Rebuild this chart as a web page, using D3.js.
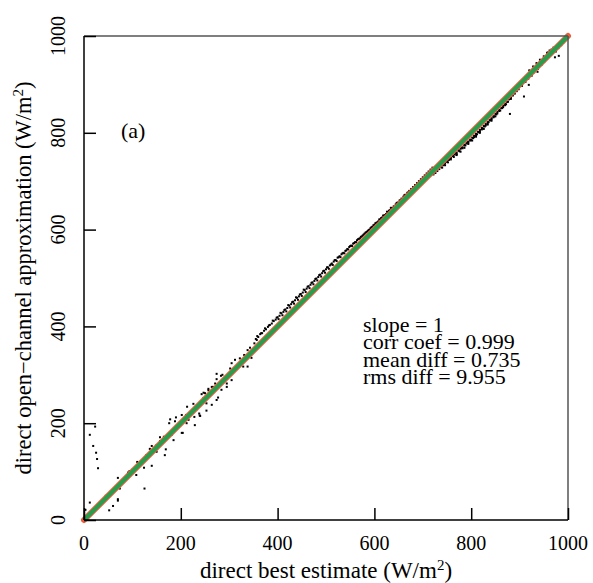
<!DOCTYPE html>
<html>
<head>
<meta charset="utf-8">
<script src="https://cdn.jsdelivr.net/npm/d3@7"></script>
<style>
  body { margin: 0; background: #fff; }
  text { font-family: "Liberation Serif", "Times New Roman", serif; fill: #000; }
</style>
</head>
<body>
<script>
// axis ticks
const xTicks = [0, 200, 400, 600, 800, 1000];
const yTicks = [0, 200, 400, 600, 800, 1000];

// fitted line (slope = 1)
const fitX = [0, 1000];
const fitY = [0, 1000];

// stats box
const statLines = ['slope = 1', 'corr coef = 0.999', 'mean diff = 0.735', 'rms diff = 9.955'];

// scatter: direct best estimate vs direct open-channel approximation (W/m2)
const lowPts = [
  [3,21],[12,36],[12,176],[23,193],[19,153],[25,139],[27,126],[29,107],
  [52,20],[60,29],[70,40],[70,43],[74,65],[70,87],[91,98],[94,101],[108,93],[110,120],
  [125,65],[124,108],[129,134],[136,147],[140,153],[140,112],[35,38],[45,50],[80,82],
  [100,104],[115,112],[150,155],[160,158],[165,172],[157,171],[157,163],[150,141],
  [169,146],[167,134],[181,176],[185,165],[192,193],[202,180],[204,180],[211,217],
  [216,207],[229,196],[233,229],[238,220],[239,216],[246,251],[250,262],[253,241],
  [255,255],[267,275],[271,282],[257,268],[274,248]
];
const midPts = [
  [176,200],[178,208],[190,212],[188,204],[202,217],[213,234],[226,240],[240,215],
  [228,213],[212,200],[253,226],[264,238],[243,260],[247,263],[257,271],[264,275],
  [274,302],[274,291],[283,298],[286,300],[277,253],[295,275],[295,282],[305,324],
  [312,331],[302,313],[322,334],[305,289],[331,341],[338,351],[343,356],[352,365],
  [357,372],[338,317],[346,335],[329,317],[284,269],[314,310]
];
const upperBand = [
  [355,374],[360,378],[364,384],[368,386],[372,391],[376,394],[380,399],[384,403],
  [388,406],[392,411],[396,414],[400,419],[404,422],[408,427],[412,430],[416,435],
  [420,438],[424,443],[428,446],[432,451],[436,454],[440,459],[444,462],[448,467],
  [452,470],[456,475],[460,478],[464,483],[468,486],[472,491],[476,494],[480,499],
  [484,502],[488,507],[492,510],[496,515],[500,518],[504,522],[508,526],[512,530],
  [516,534],[520,537],[524,542],[528,545],[532,549],[536,552],[540,556],[544,560],
  [548,564],[552,567],[556,571],[560,574],[564,578],[568,581],[572,585],[576,588],
  [580,592],[584,595],[588,599],[592,603],[596,606],[600,610],[604,614],[608,617],
  [612,621],[616,625],[620,629],[624,632],[628,636],[632,640],[636,644],[640,648],
  [644,652],[648,656],[652,660],[656,664],[660,668],[664,672],[668,676],[672,680],
  [676,684],[680,688],[684,692],[688,696],[692,700],[696,704],[700,708],[704,712],
  [708,716],[712,720],[716,724],[720,728],
  [358,380],[366,386],[374,396],[382,402],[390,412],[398,418],[406,428],[414,434],
  [422,444],[430,450],[438,460],[446,466],[454,476],[462,482],[470,490],[478,498],
  [486,506],[494,514],[502,522],[510,528],[518,537],[526,543],[534,551],[542,557],
  [550,566],[558,572],[566,580],[574,586],[582,594],[590,600],[598,609],[606,615],
  [614,624],[622,630],[630,639],[638,645],[646,655],[654,661],[662,671],[670,677],
  [402,415],[410,423],[418,431],[426,439],[434,447],[442,455],[450,463],[458,471],
  [466,479],[474,487],[482,495],[490,503],[498,511],[506,519],[514,527],[522,535],
  [530,543],[538,551],[546,559],[554,566],[562,574],[570,582],[578,590],[586,597],
  [594,605],[602,613],[610,621],[618,629],[626,637],[634,645]
];
const lowerBand = [
  [722,714],[726,717],[730,721],[734,725],[738,729],[742,733],[746,737],[750,740],
  [754,744],[758,748],[762,752],[766,755],[770,759],[774,763],[778,767],[782,770],
  [786,774],[790,778],[794,782],[798,786],[802,790],[806,794],[810,798],[814,802],
  [818,806],[822,810],[826,814],[830,818],[834,822],[838,826],[842,830],[846,834],
  [850,839],[854,843],[858,847],[862,851],[866,856],[870,860],[874,864],[878,869],
  [882,873],[886,877],[890,881],[894,886],[898,890],
  [740,728],[746,733],[752,739],[758,745],[764,750],[770,756],[776,762],[782,768],
  [788,774],[794,780],[800,785],[806,791],[812,797],[818,803],[824,809],[830,815],
  [836,822],[842,828],[848,834],[854,840],[860,846],[866,853],[872,859],
  [770,754],[778,761],[786,769],[794,777],[802,784],[810,792],[818,800],[826,808],
  [834,817],[842,825],[850,834],
  [744,736],[750,742],[756,747],[762,753],[768,758],[774,764],[780,769],[786,775],
  [792,780],[798,784],[804,789],[810,795],[816,801],[822,807],[828,813],[834,819],
  [840,826],[846,832],[852,838],[858,845],[864,851],[870,857],[876,864],[882,870]
];
const topPts = [
  [905,897],[912,905],[918,912],[925,918],[930,925],[938,932],[945,940],[952,948],
  [958,966],[962,970],[966,972],[970,976],[975,968],[980,975],[986,981],[990,986],
  [880,839],[909,875],[919,899],[937,926],[973,956],[981,959],
  [920,929],[928,937],[935,944],[942,951],[950,958],[957,965]
];

const W = 593, H = 583;
const mLeft = 84, mRight = 568, mTop = 36, mBottom = 520;

const svg = d3.select('body').append('svg')
  .attr('width', W)
  .attr('height', H);

const x = d3.scaleLinear().domain([0, 1000]).range([mLeft, mRight]);
const y = d3.scaleLinear().domain([0, 1000]).range([mBottom, mTop]);

// points
const allPts = lowPts.concat(midPts, upperBand, lowerBand, topPts);
svg.append('g')
  .selectAll('rect')
  .data(allPts)
  .enter()
  .append('rect')
  .attr('x', d => x(d[0]) - 1)
  .attr('y', d => y(d[1]) - 1)
  .attr('width', 2)
  .attr('height', 2)
  .attr('fill', '#000');

// fit line, red underneath and green on top
const fitData = fitX.map((v, i) => [v, fitY[i]]);
const line = d3.line().x(d => x(d[0])).y(d => y(d[1]));

svg.append('path')
  .datum(fitData)
  .attr('d', line)
  .attr('fill', 'none')
  .attr('stroke', '#ee5a3a')
  .attr('stroke-width', 6)
  .attr('stroke-linecap', 'round');

svg.append('path')
  .datum(fitData)
  .attr('d', line)
  .attr('fill', 'none')
  .attr('stroke', '#22a04e')
  .attr('stroke-width', 4);

// frame
svg.append('line').attr('x1', mLeft).attr('x2', mRight).attr('y1', mTop).attr('y2', mTop)
  .attr('stroke', '#555').attr('stroke-width', 1.5);
svg.append('line').attr('x1', mRight).attr('x2', mRight).attr('y1', mTop).attr('y2', mBottom)
  .attr('stroke', '#555').attr('stroke-width', 1.5);
svg.append('line').attr('x1', mLeft).attr('x2', mLeft).attr('y1', mTop).attr('y2', mBottom)
  .attr('stroke', '#000').attr('stroke-width', 1.5);
svg.append('line').attr('x1', mLeft).attr('x2', mRight).attr('y1', mBottom).attr('y2', mBottom)
  .attr('stroke', '#000').attr('stroke-width', 1.5);

// ticks (inward)
const xAxis = svg.append('g')
  .attr('transform', `translate(0,${mBottom})`)
  .call(d3.axisBottom(x).tickValues(xTicks).tickSize(-12).tickFormat(''));
const yAxis = svg.append('g')
  .attr('transform', `translate(${mLeft},0)`)
  .call(d3.axisLeft(y).tickValues(yTicks).tickSize(-12).tickFormat(''));
[xAxis, yAxis].forEach(a => {
  a.select('.domain').remove();
  a.selectAll('line').attr('stroke', '#000').attr('stroke-width', 1.5);
});

// tick labels
svg.append('g')
  .selectAll('text')
  .data(xTicks)
  .enter()
  .append('text')
  .attr('x', d => x(d))
  .attr('y', 550)
  .attr('text-anchor', 'middle')
  .style('font-size', '20px')
  .text(d => d);

svg.append('g')
  .selectAll('text')
  .data(yTicks)
  .enter()
  .append('text')
  .attr('transform', d => `translate(65,${y(d)}) rotate(-90)`)
  .attr('text-anchor', 'middle')
  .style('font-size', '20px')
  .text(d => d);

// axis titles
const xTitle = svg.append('text')
  .attr('x', (mLeft + mRight) / 2)
  .attr('y', 578)
  .attr('text-anchor', 'middle')
  .style('font-size', '23px');
xTitle.append('tspan').text('direct best estimate (W/m');
xTitle.append('tspan').attr('dy', -8).style('font-size', '15px').text('2');
xTitle.append('tspan').attr('dy', 8).text(')');

const yTitle = svg.append('text')
  .attr('transform', `translate(31,${(mTop + mBottom) / 2}) rotate(-90)`)
  .attr('text-anchor', 'middle')
  .style('font-size', '22.5px');
yTitle.append('tspan').text('direct open\u2212channel approximation (W/m');
yTitle.append('tspan').attr('dy', -8).style('font-size', '15px').text('2');
yTitle.append('tspan').attr('dy', 8).text(')');

// panel label
svg.append('text')
  .attr('x', 121)
  .attr('y', 138)
  .style('font-size', '22px')
  .text('(a)');

// stats
svg.append('g')
  .selectAll('text')
  .data(statLines)
  .enter()
  .append('text')
  .attr('x', 363)
  .attr('y', (d, i) => 331.5 + i * 17.5)
  .style('font-size', '22px')
  .text(d => d);
</script>
</body>
</html>
